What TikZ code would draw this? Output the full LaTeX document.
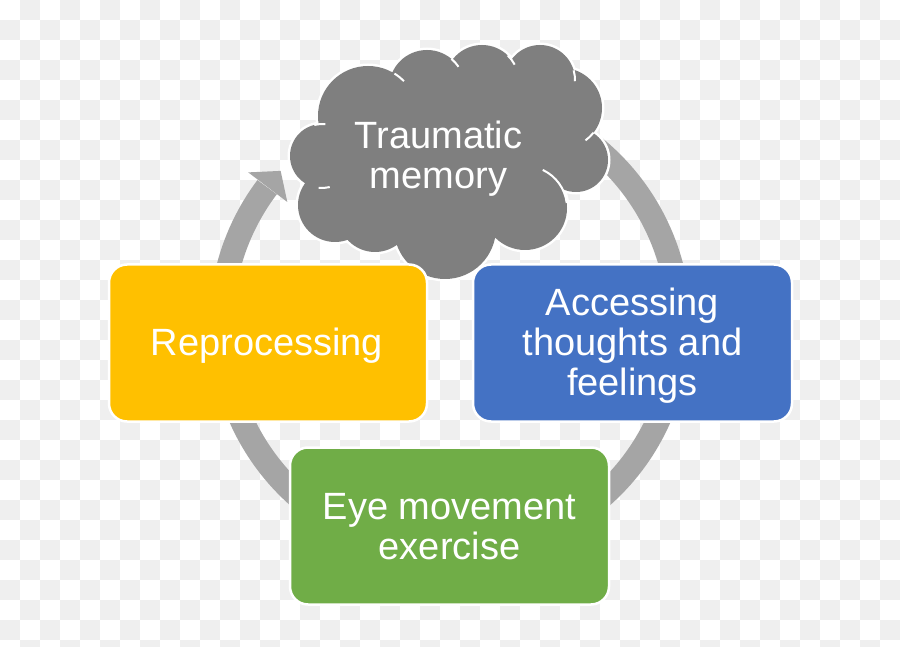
\documentclass[tikz,border=0pt]{standalone}
\usepackage{fontspec}
\setmainfont{Liberation Sans}
\usetikzlibrary{calc}
\definecolor{chk}{HTML}{EFEFEF}
\definecolor{ringc}{HTML}{A5A5A5}
\definecolor{cloudc}{HTML}{7F7F7F}
\definecolor{yelc}{HTML}{FFC000}
\definecolor{bluc}{HTML}{4472C4}
\definecolor{grnc}{HTML}{70AD47}
\tikzset{
  stepbox/.style={draw=white, line width=2.5pt, rounded corners=18pt, minimum width=318pt, minimum height=157pt, inner sep=0pt},
  lbl/.style={text=white, align=center, font=\fontsize{38}{40}\selectfont, inner sep=0pt},
  stub/.style={white, line width=2pt}
}
\begin{document}
\begin{tikzpicture}[x=1pt,y=-1pt]
\useasboundingbox (0,0) rectangle (900,647);
\fill[white] (0,0) rectangle (900,647);
\foreach \i in {0,...,44}{\foreach \j in {0,...,32}{%
  \pgfmathtruncatemacro\odd{mod(\i+\j,2)}%
  \ifnum\odd=1 \fill[chk] (\i*20,\j*20) rectangle ++(20,20);\fi}}
% ring arrow
\coordinate (c) at (450,325);
\draw[ringc, line width=24pt] ($(c)+(-70:229)$) arc[start angle=-70, end angle=217, radius=229];
\fill[ringc] ($(c)+(217.1:253)$) -- ($(c)+(-137.7:229)$) -- ($(c)+(217.1:204)$) -- cycle;
% cloud
\def\cloudcircles{%
  (322,156) circle[radius=32]
  (335,205) circle[radius=37]
  (375,215) circle[radius=37]
  (445,228) circle[radius=51]
  (525,208) circle[radius=42]
  (576,160) circle[radius=32]
  (562,108) circle[radius=40]
  (540,80) circle[radius=35]
  (482,82) circle[radius=37]
  (427,88) circle[radius=38]
  (368,116) circle[radius=50]}
\draw[white, line width=5pt] \cloudcircles;
\fill[cloudc] \cloudcircles;
\fill[cloudc] (322,156) -- (335,205) -- (375,215) -- (445,228) -- (525,208) -- (576,160) -- (562,108) -- (540,80) -- (482,82) -- (427,88) -- (368,116) -- cycle;
\draw[stub] ($(525,208)+(-65:42)$) arc[start angle=-65, end angle=-7, radius=42];
\draw[stub] ($(368,116)+(-58:50)$) arc[start angle=-58, end angle=-44, radius=50];
\draw[stub] ($(322,156)+(-104:32)$) arc[start angle=-104, end angle=-84, radius=32];
\draw[stub] ($(322,156)+(76:32)$) arc[start angle=76, end angle=96, radius=32];
\draw[stub] ($(562,108)+(38:40)$) arc[start angle=38, end angle=54, radius=40];
\draw[stub] ($(540,80)+(-16:35)$) arc[start angle=-16, end angle=2, radius=35];
\draw[stub] ($(482,82)+(-46:37)$) arc[start angle=-46, end angle=-28, radius=37];
\draw[stub] ($(427,88)+(-50:38)$) arc[start angle=-50, end angle=-34, radius=38];
\node[lbl] (trauma) at (438.5,159) {Traumatic\\memory};
% boxes
\node[stepbox, fill=yelc] (rep) at (268,343) {};
\node[lbl] (reptext) at (267,346) {Reprocessing};
\node[stepbox, fill=bluc, minimum width=319pt] (acc) at (632.5,343) {};
\node[lbl] (acctext) at (632.5,346) {Accessing\\thoughts and\\feelings};
\node[stepbox, fill=grnc, minimum width=319pt] (eye) at (449.5,526) {};
\node[lbl] (eyetext) at (449.5,527) {Eye movement\\exercise};
\end{tikzpicture}
\end{document}
